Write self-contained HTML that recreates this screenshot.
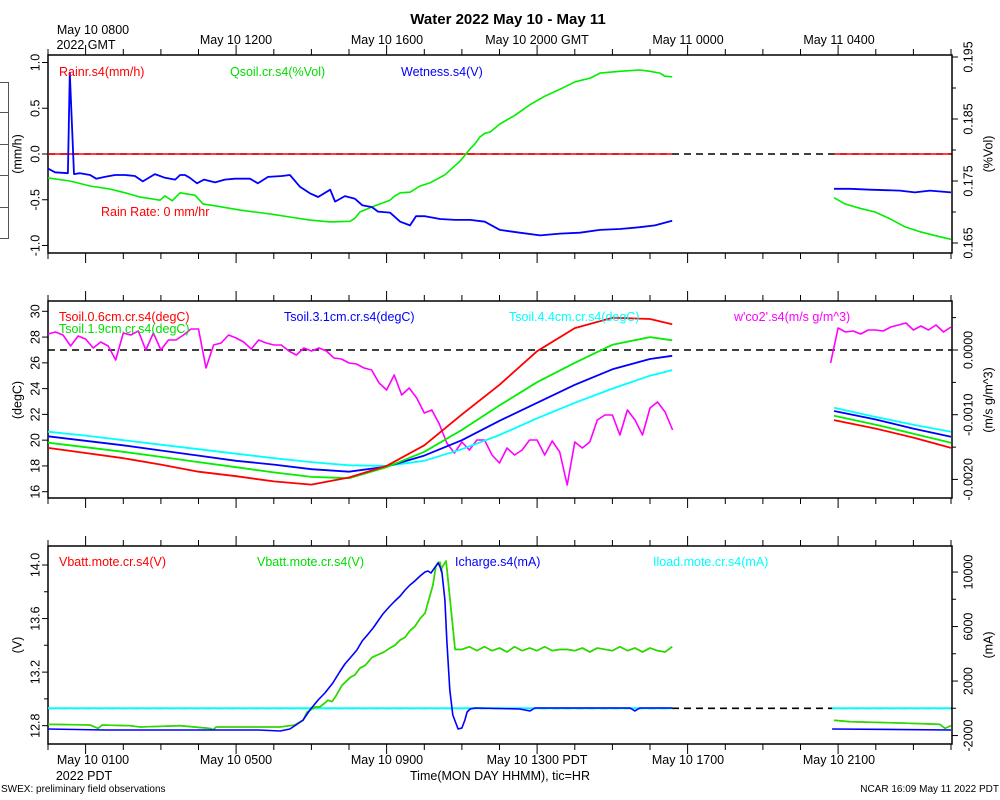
<!DOCTYPE html>
<html><head><meta charset="utf-8"><style>
html,body{margin:0;padding:0;background:#fff;}
svg{display:block;font-family:"Liberation Sans",Arial,sans-serif;}
</style></head><body>
<svg id="chart" width="1000" height="800" viewBox="0 0 1000 800" xmlns="http://www.w3.org/2000/svg">
<rect width="1000" height="800" fill="#fff"/>
<text x="508" y="24" font-size="15" font-weight="bold" text-anchor="middle">Water 2022 May 10 - May 11</text>
<g stroke="#555" stroke-width="1" fill="none">
<path d="M0 82.5H8.5V238.5H0M0 112.5H8.5M0 144.5H8.5M0 175.5H8.5M0 207.5H8.5"/>
</g>
<g id="toplabels" font-size="12.5" text-anchor="middle">
<text x="93" y="34">May 10 0800</text>
<text x="86" y="49">2022 GMT</text>
<text x="236" y="44">May 10 1200</text>
<text x="387" y="44">May 10 1600</text>
<text x="537" y="44">May 10 2000 GMT</text>
<text x="688" y="44">May 11 0000</text>
<text x="839" y="44">May 11 0400</text>
</g>
<g font-size="12.5" text-anchor="middle">
<text x="93" y="764">May 10 0100</text>
<text x="84" y="780">2022 PDT</text>
<text x="236" y="764">May 10 0500</text>
<text x="387" y="764">May 10 0900</text>
<text x="537" y="764">May 10 1300 PDT</text>
<text x="688" y="764">May 10 1700</text>
<text x="839" y="764">May 10 2100</text>
<text x="500" y="780">Time(MON DAY HHMM), tic=HR</text>
</g>
<text x="1" y="792" font-size="10">SWEX: preliminary field observations</text>
<text x="999" y="792" font-size="10" text-anchor="end">NCAR 16:09 May 11 2022 PDT</text>
<g id="plot"></g>
</svg>
<script>
// ---- data (hours PDT from May 10 0000) ----
const wetT = [0,0.19,0.53,0.58,0.69,0.85,1.12,1.28,1.51,1.78,2.05,2.31,2.52,2.84,3.11,3.38,3.51,3.64,3.77,3.96,4.15,4.44,4.70,4.97,5.37,5.58,5.85,6.22,6.43,6.70,6.96,7.18,7.50,7.63,7.89,8.16,8.35,8.61,8.77,9.09,9.36,9.62,9.78,10.02,10.42,10.82,11.22,11.61,12.01,12.54,13.08,13.61,14.14,14.67,15.20,15.73,16.13,16.59,null,20.89,21.32,21.85,22.64,23.04,23.44,24];
const wetV = [-0.16,-0.20,-0.21,0.89,-0.22,-0.21,-0.23,-0.27,-0.25,-0.23,-0.23,-0.24,-0.30,-0.22,-0.26,-0.28,-0.23,-0.23,-0.26,-0.32,-0.28,-0.31,-0.28,-0.27,-0.27,-0.32,-0.25,-0.24,-0.23,-0.36,-0.43,-0.47,-0.39,-0.52,-0.46,-0.49,-0.56,-0.58,-0.63,-0.64,-0.74,-0.78,-0.68,-0.68,-0.71,-0.72,-0.72,-0.74,-0.83,-0.86,-0.89,-0.87,-0.86,-0.83,-0.82,-0.80,-0.78,-0.73,null,-0.38,-0.38,-0.39,-0.40,-0.42,-0.40,-0.42];
const qT = [0,0.58,1.12,1.65,2.05,2.45,2.98,3.11,3.30,3.51,3.91,4.12,4.44,5.10,5.90,6.43,6.96,7.50,8.03,8.16,8.29,8.69,9.09,9.22,9.36,9.62,9.89,10.15,10.55,10.95,11.22,11.35,11.48,11.61,11.75,12.01,12.41,12.81,13.21,13.61,14.01,14.41,14.67,15.20,15.73,16.00,16.26,16.39,16.59,null,20.89,21.18,21.58,21.98,22.38,22.78,23.18,23.71,24];
const qV = [0.1755,0.1750,0.1742,0.1737,0.1731,0.1724,0.1719,0.1726,0.1718,0.1731,0.1727,0.1713,0.1710,0.1703,0.1697,0.1692,0.1687,0.1684,0.1685,0.1690,0.1700,0.1710,0.1719,0.1726,0.1731,0.1732,0.1742,0.1747,0.1760,0.1782,0.1802,0.1810,0.1821,0.1827,0.1829,0.1842,0.1856,0.1873,0.1887,0.1898,0.1910,0.1916,0.1924,0.1927,0.1929,0.1927,0.1924,0.1919,0.1918,null,0.1723,0.1713,0.1706,0.1700,0.1689,0.1676,0.1668,0.1660,0.1656];
const rainT = [0,16.59,null,20.89,24];
const rainV = [0,0,null,0,0];

const tT = [0,1,2,3,4,5,6,7,8,9,10,11,12,13,14,15,16,16.59,null,20.89,22,23,24];
const t06 = [19.4,19.0,18.6,18.1,17.55,17.2,16.8,16.55,17.1,18.0,19.6,22.0,24.3,26.9,28.7,29.5,29.4,29.0,null,21.56,20.9,20.2,19.4];
const t19 = [19.8,19.45,19.1,18.7,18.3,17.9,17.5,17.15,17.05,17.9,19.1,20.8,22.7,24.5,26.0,27.4,28.0,27.75,null,21.9,21.2,20.5,19.8];
const t31 = [20.3,19.95,19.6,19.2,18.8,18.4,18.1,17.75,17.55,17.95,18.8,20.0,21.5,22.9,24.3,25.5,26.3,26.55,null,22.26,21.6,20.9,20.27];
const t44 = [20.66,20.35,20.0,19.65,19.3,18.95,18.6,18.3,18.05,18.0,18.4,19.3,20.4,21.7,22.9,24.0,25.0,25.44,null,22.52,21.8,21.2,20.66];

// w'co2' in units of 1e-4 m/s g/m^3, sampled every 0.2 h
const co2Start1 = 0, co2Start2 = 20.8, co2Step = 0.2;
const co2V1 = [2.47,2.78,2.32,0.62,2.16,1.70,0.31,1.24,0.62,-1.55,2.63,2.32,2.94,0,2.63,0,1.55,1.55,2.32,3.25,3.25,-2.78,0.77,1.08,2.32,1.85,1.24,0.15,1.55,1.08,0.77,0.77,-0.15,-0.77,0.31,-0.15,0.31,-0.15,-1.24,-1.39,-2.01,-2.16,-2.78,-3.09,-5.10,-6.18,-3.86,-6.96,-5.87,-7.42,-9.74,-9.27,-11.44,-14.37,-15.92,-14.22,-15.46,-13.91,-13.91,-16.23,-17.47,-15.15,-16.23,-15.46,-13.91,-13.91,-16.23,-14.06,-15.77,-20.87,-14.22,-15.15,-14.22,-10.82,-10.05,-10.05,-13.14,-9.27,-10.82,-13.14,-8.96,-8.04,-9.58,-12.36];
const co2V2 = [-2.01,3.40,2.78,2.94,2.47,3.09,3.09,2.94,3.55,3.86,4.17,3.09,3.71,3.09,3.86,2.78,3.55];

const vT = [0,1.12,1.33,1.44,2.18,2.45,3.51,4.31,4.39,4.47,5.37,6.17,6.56,6.78,6.88,7.10,7.23,7.36,7.44,7.55,7.65,7.81,8.03,8.16,8.29,8.43,8.61,8.77,8.93,9.09,9.22,9.36,9.49,9.62,9.75,9.89,10.02,10.10,10.23,10.31,10.37,10.42,10.45,10.47,10.58,10.74,10.82,11.0,11.2,11.4,11.6,11.8,12.0,12.2,12.4,12.6,12.8,13.0,13.2,13.4,13.6,13.8,14.0,14.2,14.4,14.6,14.8,15.0,15.2,15.4,15.6,15.8,16.0,16.2,16.4,16.59,null,20.89,21.32,22.64,23.7,23.84,24];
const vbatt = [12.81,12.805,12.78,12.805,12.80,12.79,12.80,12.78,12.77,12.79,12.79,12.79,12.805,12.84,12.90,12.94,12.94,12.97,12.99,12.98,13.02,13.10,13.16,13.18,13.23,13.25,13.31,13.33,13.35,13.38,13.40,13.44,13.46,13.51,13.54,13.60,13.64,13.72,13.85,13.99,14.02,14.02,13.95,13.98,14.03,13.59,13.37,13.37,13.39,13.36,13.39,13.36,13.38,13.35,13.39,13.36,13.38,13.36,13.39,13.36,13.37,13.37,13.36,13.38,13.35,13.38,13.37,13.36,13.39,13.36,13.38,13.35,13.38,13.36,13.35,13.39,null,12.84,12.83,12.82,12.81,12.78,12.80];
const iT = [0,1.5,4,5.6,6.17,6.43,6.59,6.78,6.96,7.18,7.36,7.57,7.75,7.89,8.03,8.21,8.35,8.51,8.64,8.77,8.90,9.09,9.22,9.36,9.49,9.62,9.75,9.89,10.02,10.10,10.18,10.29,10.37,10.42,10.47,10.55,10.60,10.68,10.76,10.90,11.00,11.08,11.14,11.22,11.35,12.54,12.81,12.94,14.67,15.47,15.60,15.73,16.59,null,20.84,24];
const icharge = [-1519,-1593,-1593,-1593,-1666,-1519,-1226,-859,-125,609,1123,1857,2664,3251,3692,4279,4939,5453,5893,6407,6921,7508,7875,8242,8683,9050,9343,9710,10004,10077,9930,10371,10664,10371,10004,7948,5013,1343,-492,-1519,-1446,-859,-272,-51,22,-51,-198,22,22,22,-198,22,22,null,-1519,-1593];
const iloadT = [0,16.59,null,20.84,24];
const iload = [0,0,null,0,0];

const topTicksL = ["1.0","0.5","0.0","-0.5","-1.0"];
const topTicksR = ["0.195","0.185","0.175","0.165"];
const midTicksL = ["30","28","26","24","22","20","18","16"];
const midTicksR = ["0.0000","-0.0010","-0.0020"];
const botTicksL = ["14.0","13.6","13.2","12.8"];
const botTicksR = ["10000","6000","2000","-2000"];

// ---- scales ----
const X0 = 48, X1 = 952;
const xs = h => X0 + h * 37.625;
const yRain = v => 154 - v * 91.5;
const yQ = v => 57 + (0.195 - v) * 6200;
const yT = t => 311.3 + (30 - t) * 12.886;
const yW = v => 350 - v * 6.47; // v in 1e-4
const yV = v => 565 + (14 - v) * 133.9;
const yI = m => 708.3 - m * 0.013625;

const NS = "http://www.w3.org/2000/svg";
const plot = document.getElementById("plot");
function mk(tag, attrs, parent) {
  const e = document.createElementNS(NS, tag);
  for (const k in attrs) e.setAttribute(k, attrs[k]);
  (parent || plot).appendChild(e);
  return e;
}
function pathD(ts, vs, ys) {
  let d = "", pen = false;
  for (let i = 0; i < ts.length; i++) {
    if (ts[i] === null || vs[i] === null) { pen = false; continue; }
    d += (pen ? "L" : "M") + xs(ts[i]).toFixed(1) + " " + ys(vs[i]).toFixed(1);
    pen = true;
  }
  return d;
}
function series(name, ts, vs, ys, color, w) {
  const p = mk("path", {d: pathD(ts, vs, ys), fill: "none", stroke: color, "stroke-width": w || 1.6, "stroke-linejoin": "round"});
  
  
}
function evenT(start, n) { const a = []; for (let i = 0; i < n; i++) a.push(start + i * co2Step); return a; }
function dashed(name, y) {
  const l = mk("line", {x1: X0, x2: X1, y1: y, y2: y, stroke: "#000", "stroke-width": 1.6, "stroke-dasharray": "7 5"});
  
  
}
function frame(name, top, bot) {
  const r = mk("rect", {x: X0, y: top, width: X1 - X0, height: bot - top, fill: "none", stroke: "#000", "stroke-width": 1.5});
  
  
  let d = "";
  for (let h = 0; h <= 24; h++) {
    const x = xs(h).toFixed(1);
    const len = ((h - 1) % 4 === 0) ? 10 : 6;
    d += "M" + x + " " + top + "v" + (-len) + "M" + x + " " + bot + "v" + len;
  }
  const t = mk("path", {d: d, stroke: "#000", "stroke-width": 1});
  
  
}
function yTicks(name, labels, scale, side, conv) {
  labels.forEach(lab => {
    const y = scale(conv(lab));
    const x = side === "L" ? X0 : X1;
    const tk = mk("line", {x1: x, x2: side === "L" ? x - 6 : x + 6, y1: y, y2: y, stroke: "#000", "stroke-width": 1});
    
    
    const tx = side === "L" ? 35 : 968;
    const t = mk("text", {x: tx, y: y, "font-size": 12.5, "text-anchor": "middle", transform: "rotate(-90 " + tx + " " + y + ")", dy: "0.35em"});
    t.textContent = lab;
    
    
  });
}
function minorTicks(name, vals, scale, side) {
  let d = "";
  vals.forEach(v => { const y = scale(v).toFixed(1); d += side === "L" ? "M" + X0 + " " + y + "h-4" : "M" + X1 + " " + y + "h4"; });
  const p = mk("path", {d: d, stroke: "#000", "stroke-width": 1});
  
  
}
function axTitle(name, text, x, y) {
  const t = mk("text", {x: x, y: y, "font-size": 12.5, "text-anchor": "middle", transform: "rotate(-90 " + x + " " + y + ")", dy: "0.35em"});
  t.textContent = text;
  
  
}
function legend(name, text, x, y, color) {
  const t = mk("text", {x: x, y: y, "font-size": 12.5, fill: color});
  t.textContent = text;
  
  
}

// ---- top panel ----
frame("top-panel-frame", 55, 253);
yTicks("top-left-axis", topTicksL, yRain, "L", parseFloat);
yTicks("top-right-axis", topTicksR, yQ, "R", parseFloat);
minorTicks("top-right-minor-ticks", [0.19, 0.18, 0.17], yQ, "R");
axTitle("top-left-axis-title", "(mm/h)", 17, 154);
axTitle("top-right-axis-title", "(%Vol)", 988, 154);
dashed("top-zero-line", yRain(0));
series("rainr-line", rainT, rainV, yRain, "#ff0000", 1.6);
series("qsoil-line", qT, qV, yQ, "#00ee00", 1.6);
series("wetness-line", wetT, wetV, yRain, "#0000ff", 1.8);
legend("legend-rainr", "Rainr.s4(mm/h)", 59, 76, "#ff0000");
legend("legend-qsoil", "Qsoil.cr.s4(%Vol)", 230, 76, "#00dd00");
legend("legend-wetness", "Wetness.s4(V)", 401, 76, "#0000ff");
legend("rain-rate-note", "Rain Rate: 0 mm/hr", 101, 216, "#ff0000");

// ---- middle panel ----
frame("middle-panel-frame", 301, 498);
yTicks("middle-left-axis", midTicksL, yT, "L", parseFloat);
yTicks("middle-right-axis", midTicksR, yW, "R", s => parseFloat(s) * 1e4);
minorTicks("middle-right-minor-ticks", [5, -5, -15], yW, "R");
axTitle("middle-left-axis-title", "(degC)", 17, 400);
axTitle("middle-right-axis-title", "(m/s g/m^3)", 988, 400);
dashed("middle-zero-line", yW(0));
series("wco2-line-1", evenT(co2Start1, co2V1.length), co2V1, yW, "#ff00ff", 1.6);
series("wco2-line-2", evenT(co2Start2, co2V2.length), co2V2, yW, "#ff00ff", 1.6);
series("tsoil-4-4cm-line", tT, t44, yT, "#00ffff", 1.8);
series("tsoil-3-1cm-line", tT, t31, yT, "#0000ff", 1.8);
series("tsoil-1-9cm-line", tT, t19, yT, "#00ee00", 1.8);
series("tsoil-0-6cm-line", tT, t06, yT, "#ff0000", 1.8);
legend("legend-tsoil-0-6", "Tsoil.0.6cm.cr.s4(degC)", 59, 321, "#ff0000");
legend("legend-tsoil-1-9", "Tsoil.1.9cm.cr.s4(degC)", 59, 333, "#00dd00");
legend("legend-tsoil-3-1", "Tsoil.3.1cm.cr.s4(degC)", 284, 321, "#0000ff");
legend("legend-tsoil-4-4", "Tsoil.4.4cm.cr.s4(degC)", 509, 321, "#00ffff");
legend("legend-wco2", "w'co2'.s4(m/s g/m^3)", 734, 321, "#ff00ff");

// ---- bottom panel ----
frame("bottom-panel-frame", 546, 744);
yTicks("bottom-left-axis", botTicksL, yV, "L", parseFloat);
yTicks("bottom-right-axis", botTicksR, yI, "R", parseFloat);
minorTicks("bottom-left-minor-ticks", [13.8, 13.4, 13.0], yV, "L");
minorTicks("bottom-right-minor-ticks", [8000, 4000, 0], yI, "R");
axTitle("bottom-left-axis-title", "(V)", 17, 645);
axTitle("bottom-right-axis-title", "(mA)", 988, 645);
dashed("bottom-zero-line", yI(0));
series("iload-line", iloadT, iload, yI, "#00ffff", 2);
series("vbatt-red-line", vT, vbatt, yV, "#b0a000", 1.6);
series("vbatt-green-line", vT, vbatt, yV, "#22dd00", 1.6);
series("icharge-line", iT, icharge, yI, "#0000ff", 1.6);
legend("legend-vbatt-red", "Vbatt.mote.cr.s4(V)", 59, 566, "#ff0000");
legend("legend-vbatt-green", "Vbatt.mote.cr.s4(V)", 257, 566, "#00dd00");
legend("legend-icharge", "Icharge.s4(mA)", 455, 566, "#0000ff");
legend("legend-iload", "Iload.mote.cr.s4(mA)", 653, 566, "#00ffff");
</script>
</body></html>
